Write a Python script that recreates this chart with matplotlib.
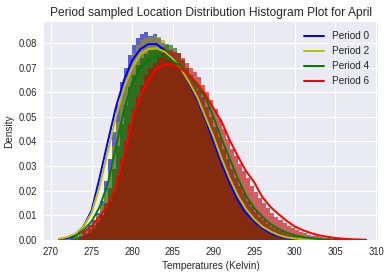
import numpy as np
import matplotlib
matplotlib.use('Agg')
from matplotlib import pyplot as plt

plt.style.use('seaborn-v0_8')

periods = ['Period 0', 'Period 2', 'Period 4', 'Period 6']
colors = ['b', 'y', 'g', 'r']
hist_colors = ['#0000c8', '#9a9a00', '#006000', '#bc0000']

# histogram heights (density), 0.5 K bins starting at hist_start
bin_width = 0.5
hist_start = [271.0, 271.0, 272.5, 273.5]
hist_p0 = [0.0002, 0.0004, 0.0007, 0.0011, 0.0017, 0.0026, 0.004, 0.006, 0.008, 0.011,
           0.016, 0.024, 0.033, 0.044, 0.055, 0.064, 0.070, 0.075, 0.079, 0.082,
           0.0835, 0.0845, 0.083, 0.0835, 0.082, 0.080, 0.077, 0.074, 0.072, 0.070,
           0.067, 0.065, 0.062, 0.059, 0.055, 0.051, 0.046, 0.042, 0.038, 0.033,
           0.029, 0.025, 0.021, 0.018, 0.015, 0.012, 0.0095, 0.0075, 0.006, 0.0046,
           0.0036, 0.0027, 0.002, 0.0015, 0.0011, 0.0008, 0.0005, 0.0003, 0.0002, 0.0001]
hist_p2 = [0.0002, 0.0004, 0.0006, 0.001, 0.0015, 0.0023, 0.0035, 0.0052, 0.007, 0.010,
           0.014, 0.020, 0.028, 0.038, 0.048, 0.058, 0.066, 0.071, 0.076, 0.079,
           0.081, 0.082, 0.0825, 0.083, 0.0825, 0.081, 0.079, 0.076, 0.073, 0.071,
           0.068, 0.066, 0.063, 0.060, 0.056, 0.052, 0.048, 0.044, 0.040, 0.035,
           0.031, 0.027, 0.023, 0.020, 0.017, 0.014, 0.011, 0.009, 0.0072, 0.0057,
           0.0045, 0.0035, 0.0027, 0.002, 0.0015, 0.0011, 0.0008, 0.0006, 0.0004, 0.0003,
           0.0002, 0.00015, 0.0001, 0.0001]
hist_p4 = [0.0003, 0.0007, 0.0012, 0.002, 0.003, 0.0045, 0.007, 0.010, 0.015, 0.021,
           0.029, 0.038, 0.047, 0.055, 0.062, 0.067, 0.071, 0.074, 0.0755, 0.077,
           0.078, 0.078, 0.0785, 0.0795, 0.079, 0.078, 0.076, 0.073, 0.070, 0.067,
           0.064, 0.061, 0.058, 0.054, 0.050, 0.046, 0.042, 0.037, 0.033, 0.029,
           0.025, 0.022, 0.019, 0.016, 0.0135, 0.0115, 0.0095, 0.008, 0.0065, 0.0053,
           0.0043, 0.0035, 0.0028, 0.0022, 0.0017, 0.0013, 0.001, 0.0008, 0.0006, 0.0004,
           0.0003, 0.0002, 0.00015, 0.0001, 0.0001, 0.00005]
hist_p6 = [0.0015, 0.003, 0.0045, 0.006, 0.008, 0.010, 0.013, 0.016, 0.020, 0.026,
           0.033, 0.040, 0.047, 0.053, 0.058, 0.063, 0.067, 0.070, 0.072, 0.0745,
           0.076, 0.0765, 0.077, 0.0765, 0.076, 0.074, 0.072, 0.070, 0.068, 0.066,
           0.063, 0.060, 0.057, 0.053, 0.049, 0.045, 0.041, 0.037, 0.034, 0.031,
           0.028, 0.025, 0.022, 0.0195, 0.017, 0.015, 0.013, 0.011, 0.0095, 0.008,
           0.0068, 0.0057, 0.0048, 0.004, 0.0033, 0.0027, 0.0022, 0.0018, 0.0015, 0.0012,
           0.001, 0.0008, 0.0006, 0.0005, 0.0004, 0.0003, 0.0002, 0.00015, 0.0001, 0.0001,
           0.00005]

# fitted density curves
temps_p0 = [271, 272, 273, 274, 275, 276, 277, 278, 279, 280, 281, 282, 283, 284, 285, 286,
            287, 288, 289, 290, 291, 292, 293, 294, 295, 296, 297, 298, 299, 300, 301]
fit_p0 = [0.0003, 0.0008, 0.002, 0.0055, 0.012, 0.0255, 0.040, 0.054, 0.065, 0.073, 0.0775,
          0.0795, 0.0795, 0.077, 0.073, 0.0695, 0.0635, 0.057, 0.049, 0.040, 0.031, 0.023,
          0.016, 0.011, 0.0075, 0.0048, 0.0028, 0.0015, 0.0008, 0.0004, 0.0002]
temps_p2 = [271, 272, 273, 274, 275, 276, 277, 278, 279, 280, 281, 282, 283, 284, 285, 286,
            287, 288, 289, 290, 291, 292, 293, 294, 295, 296, 297, 298, 299, 300, 301, 302, 303]
fit_p2 = [0.0005, 0.0012, 0.0025, 0.0055, 0.011, 0.022, 0.036, 0.050, 0.062, 0.070, 0.0755,
          0.0775, 0.0778, 0.0765, 0.0735, 0.0695, 0.064, 0.058, 0.050, 0.042, 0.033, 0.025,
          0.018, 0.0125, 0.0085, 0.0055, 0.0035, 0.002, 0.0011, 0.0006, 0.0003, 0.00015, 0.0001]
temps_p4 = [272.5, 273, 274, 275, 276, 277, 278, 279, 280, 281, 282, 283, 284, 285, 286, 287,
            288, 289, 290, 291, 292, 293, 294, 295, 296, 297, 298, 299, 300, 301, 302, 303,
            304, 305, 306]
fit_p4 = [0.0005, 0.0015, 0.004, 0.0075, 0.0135, 0.023, 0.038, 0.053, 0.064, 0.070, 0.073,
          0.0745, 0.0745, 0.0725, 0.0705, 0.067, 0.0625, 0.058, 0.050, 0.041, 0.033, 0.025,
          0.018, 0.013, 0.0095, 0.0065, 0.0045, 0.003, 0.0019, 0.0012, 0.0007, 0.0004,
          0.0002, 0.0001, 0.00005]
temps_p6 = [273.8, 274, 275, 276, 277, 278, 279, 280, 281, 282, 283, 284, 285, 286, 287, 288,
            289, 290, 291, 292, 293, 294, 295, 296, 297, 298, 299, 300, 301, 302, 303, 304,
            305, 306, 307, 308, 308.8]
fit_p6 = [0.0027, 0.003, 0.0058, 0.0095, 0.0145, 0.022, 0.035, 0.049, 0.059, 0.065, 0.0695,
          0.0713, 0.0712, 0.0695, 0.067, 0.0635, 0.059, 0.0535, 0.048, 0.0405, 0.034, 0.028,
          0.0235, 0.0175, 0.0135, 0.0105, 0.0078, 0.0055, 0.004, 0.0028, 0.0019, 0.0013,
          0.0008, 0.0005, 0.0003, 0.0002, 0.0001]

hists = [hist_p0, hist_p2, hist_p4, hist_p6]
temps = [temps_p0, temps_p2, temps_p4, temps_p6]
fits = [fit_p0, fit_p2, fit_p4, fit_p6]

fig = plt.figure(figsize=(390/72, 274/72), dpi=72)
ax = fig.add_axes([44/390, 34/274, 334/390, 218/274])

for h, x0, c in zip(hists, hist_start, hist_colors):
    edges = x0 + bin_width * np.arange(len(h) + 1)
    ax.hist(edges[:-1], bins=edges, weights=h, color=c, alpha=0.6)

for t, f, c, lab in zip(temps, fits, colors, periods):
    ax.plot(t, f, color=c, lw=2, label=lab, zorder=5)

ax.set_xlim(269.14, 310.25)
ax.set_ylim(0, 0.0885)
ax.set_xticks(np.arange(270, 311, 5))
ax.set_title('Period sampled Location Distribution Histogram Plot for April', fontsize=12)
ax.set_xlabel('Temperatures (Kelvin)', fontsize=10)
ax.set_ylabel('Density', fontsize=10)
ax.tick_params(labelsize=9.5)
ax.legend(loc='upper right', fontsize=10)
fig.savefig('out.png', dpi=72)
